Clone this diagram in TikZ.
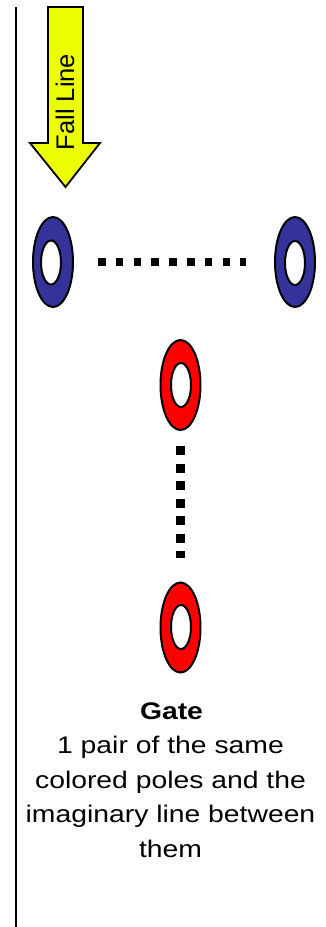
\documentclass[tikz,border=0pt]{standalone}
\usepackage{fontspec}
\setmainfont{Liberation Sans}
\usetikzlibrary{shapes.geometric}
\definecolor{poleblue}{RGB}{51,51,153}
\definecolor{polered}{RGB}{255,0,0}
\definecolor{arrowyellow}{RGB}{236,255,0}
\begin{document}
\begin{tikzpicture}[x=1pt,y=-1pt,
  outerpole/.style={ellipse,draw=black,line width=2pt,minimum width=40pt,minimum height=90pt,inner sep=0pt},
  innerpole/.style={ellipse,draw=black,line width=2pt,fill=white,minimum width=20pt,minimum height=44pt,inner sep=0pt},
  hdots/.style={line width=8.5pt,line cap=butt,dash pattern=on 7.5pt off 10.3pt},
  vdots/.style={line width=9pt,line cap=butt,dash pattern=on 9pt off 8.5pt},
  label/.style={anchor=base,xscale=1.18,transform shape,font=\fontsize{24}{34.5}\selectfont,inner sep=0pt}]
\useasboundingbox (0,0) rectangle (326,927);
% left border line
\coordinate (ltop) at (16,7);
\coordinate (lbot) at (16,927);
\draw[line width=2.4pt] (ltop) -- (lbot);
% fall line arrow
\draw[line width=1.8pt,fill=arrowyellow,line join=miter]
  (48,7) -- (83,7) -- (83,143) -- (100,143) -- (65.5,187) -- (30,143) -- (48,143) -- cycle;
\node[rotate=90,font=\fontsize{25.5}{25.5}\selectfont,inner sep=0pt] (fall) at (65,102) {Fall Line};
% blue poles
\node[outerpole,fill=poleblue] (bl) at (53,262) {};
\node[innerpole] (bli) at (51,262.5) {};
\node[outerpole,fill=poleblue] (br) at (295,262) {};
\node[innerpole] (bri) at (295,263) {};
% red poles
\node[outerpole,fill=polered] (rt) at (180.5,385) {};
\node[innerpole] (rti) at (181,385) {};
\node[outerpole,fill=polered] (rb) at (180.5,627.5) {};
\node[innerpole] (rbi) at (181,627) {};
% imaginary lines
\draw[hdots] ([xshift=24pt]bl.east) -- ([xshift=-28pt]br.west);
\draw[vdots] ([yshift=-15pt]rt.south) -- ([yshift=24pt]rb.north);
% caption
\node[label,font=\bfseries\fontsize{24}{34.5}\selectfont] (t0) at (171.5,719.5) {Gate};
\node[label] (t1) at (170.5,753.5) {1 pair of the same};
\node[label] (t2) at (170.5,788) {colored poles and the};
\node[label] (t3) at (170.5,822.5) {imaginary line between};
\node[label] (t4) at (170.5,857.5) {them};
\end{tikzpicture}
\end{document}
